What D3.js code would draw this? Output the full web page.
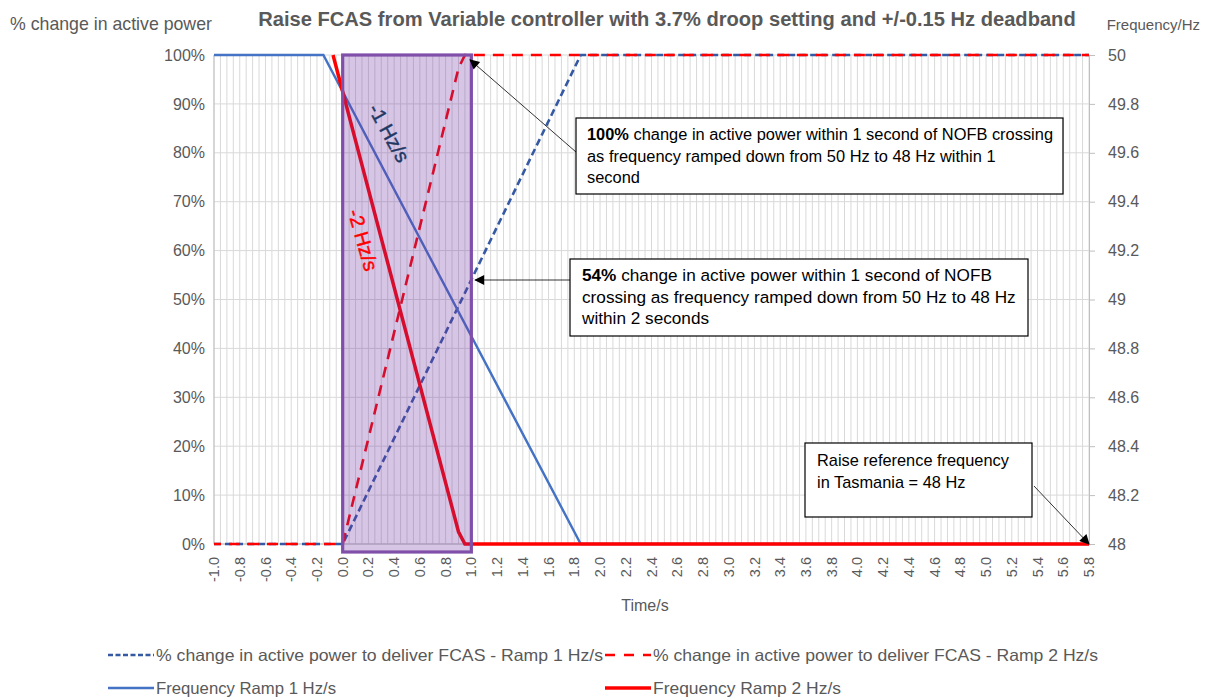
<!DOCTYPE html>
<html>
<head>
<meta charset="utf-8">
<script src="https://cdn.jsdelivr.net/npm/d3@7"></script>
<style>
  body { margin: 0; background: #fff; }
  text { font-family: "Liberation Sans", Arial, sans-serif; }
</style>
</head>
<body>
<script>
// time ticks shown on the category axis
var timeLabels = ["-1.0","-0.8","-0.6","-0.4","-0.2","0.0","0.2","0.4","0.6","0.8","1.0","1.2","1.4","1.6","1.8","2.0","2.2","2.4","2.6","2.8","3.0","3.2","3.4","3.6","3.8","4.0","4.2","4.4","4.6","4.8","5.0","5.2","5.4","5.6","5.8"];
var powerTicks = [0, 10, 20, 30, 40, 50, 60, 70, 80, 90, 100];
var freqTicks = [48, 48.2, 48.4, 48.6, 48.8, 49, 49.2, 49.4, 49.6, 49.8, 50];

// breakpoints of each series (time/s, value)
var powerTime1 = [-1.0, 0.0, 1.85, 5.8];
var powerRamp1 = [0, 0, 100, 100];
var powerTime2 = [-1.0, 0.0, 0.9, 0.95, 5.8];
var powerRamp2 = [0, 0, 97.3, 100, 100];
var freqTime1 = [-1.0, -0.15, 1.85, 5.8];
var freqRamp1 = [50, 50, 48, 48];
var freqTime2 = [-0.075, 0.9, 0.95, 5.8];
var freqRamp2 = [50, 48.05, 48, 48];

var seriesNames = [
  "% change in active power to deliver FCAS - Ramp 1 Hz/s",
  "% change in active power to deliver FCAS - Ramp 2 Hz/s",
  "Frequency Ramp 1 Hz/s",
  "Frequency Ramp 2 Hz/s"
];

var w = 1205, h = 697;
var grey = "#595959";

var svg = d3.select("body").append("svg")
  .attr("width", w).attr("height", h);

var x = d3.scaleLinear().domain([-1, 5.8]).range([214, 1089]);
var yP = d3.scaleLinear().domain([0, 100]).range([544, 55]);
var yF = d3.scaleLinear().domain([48, 50]).range([544, 55]);

// fit a text element to a width by changing its font size
function fit(t, width) {
  var l = t.node().getComputedTextLength();
  var fs = parseFloat(t.attr("font-size"));
  t.attr("font-size", (fs * width / l).toFixed(2));
  return t;
}
// squeeze a text to a width keeping its font size (narrow face look)
function squeeze(t, width) {
  t.attr("textLength", width).attr("lengthAdjust", "spacingAndGlyphs");
  return t;
}

// grid
var grid = svg.append("g");
grid.selectAll(".vg")
  .data(d3.range(0, 137))
  .enter().append("line")
  .attr("x1", function(i){ return x(-1 + i * 0.05); })
  .attr("x2", function(i){ return x(-1 + i * 0.05); })
  .attr("y1", yP(0)).attr("y2", yP(100))
  .attr("stroke", "#d9d9d9").attr("stroke-width", 1);
grid.selectAll(".hg")
  .data(powerTicks)
  .enter().append("line")
  .attr("x1", x(-1)).attr("x2", x(5.8))
  .attr("y1", function(d){ return yP(d); })
  .attr("y2", function(d){ return yP(d); })
  .attr("stroke", "#d9d9d9").attr("stroke-width", 1);

svg.append("line")
  .attr("x1", x(-1)).attr("x2", x(-1)).attr("y1", yP(0)).attr("y2", yP(100))
  .attr("stroke", "#bfbfbf");
svg.append("line")
  .attr("x1", x(-1)).attr("x2", x(5.8)).attr("y1", yP(0)).attr("y2", yP(0))
  .attr("stroke", "#bfbfbf");

// left axis
var leftAxis = svg.append("g")
  .attr("transform", "translate(" + x(-1) + ",0)")
  .call(d3.axisLeft(yP).tickValues(powerTicks).tickSize(0).tickPadding(9)
        .tickFormat(function(d){ return d + "%"; }));
leftAxis.select(".domain").remove();
leftAxis.selectAll("text").attr("fill", grey).attr("font-size", 16)
  .style("font-family", "Liberation Sans, Arial, sans-serif");

// right axis
var rightAxis = svg.append("g")
  .attr("transform", "translate(" + x(5.8) + ",0)")
  .call(d3.axisRight(yF).tickValues(freqTicks).tickSize(6).tickPadding(13)
        .tickFormat(function(d){ return d3.format("")(+d.toFixed(1)); }));
rightAxis.select(".domain").attr("stroke", "#bfbfbf");
rightAxis.selectAll("line").attr("stroke", "#bfbfbf");
rightAxis.selectAll("text").attr("fill", grey).attr("font-size", 16)
  .style("font-family", "Liberation Sans, Arial, sans-serif");

// x labels, rotated
svg.append("g").selectAll("text")
  .data(timeLabels)
  .enter().append("text")
  .attr("transform", function(d){ return "translate(" + x(+d) + ",557) rotate(-90)"; })
  .attr("text-anchor", "end")
  .attr("dy", "0.35em")
  .attr("font-size", 14.5)
  .attr("fill", grey)
  .text(function(d){ return d; });

// series
function pts(ts, vs) { return ts.map(function(t, i){ return [t, vs[i]]; }); }
var lineP = d3.line().x(function(d){ return x(d[0]); }).y(function(d){ return yP(d[1]); });
var lineF = d3.line().x(function(d){ return x(d[0]); }).y(function(d){ return yF(d[1]); });

var blueDash = "#3559a3", redDash = "#ff0000", blueSolid = "#4472c4", redSolid = "#ff0000";

svg.append("path").attr("d", lineP(pts(powerTime1, powerRamp1)))
  .attr("fill", "none").attr("stroke", blueDash).attr("stroke-width", 2.6)
  .attr("stroke-dasharray", "7,4");
svg.append("path").attr("d", lineP(pts(powerTime2, powerRamp2)))
  .attr("fill", "none").attr("stroke", redDash).attr("stroke-width", 2.6)
  .attr("stroke-dasharray", "11,8").attr("stroke-dashoffset", 4);
svg.append("path").attr("d", lineF(pts(freqTime1, freqRamp1)))
  .attr("fill", "none").attr("stroke", blueSolid).attr("stroke-width", 2.4);
svg.append("path").attr("d", lineF(pts(freqTime2, freqRamp2)))
  .attr("fill", "none").attr("stroke", redSolid).attr("stroke-width", 3.5);

// highlight window 0..1 s
svg.append("rect")
  .attr("x", x(0)).attr("y", yP(100))
  .attr("width", x(1) - x(0)).attr("height", yP(0) - yP(100) + 8)
  .attr("fill", "#7030a0").attr("fill-opacity", 0.28)
  .attr("stroke", "#7f4fa9").attr("stroke-width", 3.2);

// slope labels
svg.append("text")
  .attr("transform", "translate(389,133) rotate(61)")
  .attr("text-anchor", "middle").attr("dy", "0.35em")
  .attr("font-size", 20).attr("fill", "#1f3864")
  .attr("stroke", "#1f3864").attr("stroke-width", 0.4)
  .text("-1 Hz/s");
svg.append("text")
  .attr("transform", "translate(363,240) rotate(74)")
  .attr("text-anchor", "middle").attr("dy", "0.35em")
  .attr("font-size", 20).attr("fill", "#ff0000")
  .attr("stroke", "#ff0000").attr("stroke-width", 0.4)
  .text("-2 Hz/s");

// arrows
var defs = svg.append("defs");
defs.append("marker").attr("id", "arr")
  .attr("viewBox", "0 0 10 10").attr("refX", 9).attr("refY", 5)
  .attr("markerWidth", 13).attr("markerHeight", 10).attr("markerUnits", "userSpaceOnUse")
  .attr("orient", "auto")
  .append("path").attr("d", "M0,0L10,5L0,10Z").attr("fill", "#000");

function arrow(x1, y1, x2, y2) {
  svg.append("line").attr("x1", x1).attr("y1", y1).attr("x2", x2).attr("y2", y2)
    .attr("stroke", "#000").attr("stroke-width", 0.8).attr("marker-end", "url(#arr)");
}
arrow(576, 152, x(0.99), yP(99));
arrow(570, 280, x(1.03), 280);
arrow(1034, 486, x(5.8), yF(48));

// callout boxes: first line sets the font size, the rest follow it
function callout(bx, by, bw, bh, lines, tx, ty, firstWidth) {
  svg.append("rect").attr("x", bx).attr("y", by).attr("width", bw).attr("height", bh)
    .attr("fill", "#fff").attr("stroke", "#000").attr("stroke-width", 1.2);
  var fs = 15;
  lines.forEach(function(ln, i) {
    var t = svg.append("text").attr("x", tx).attr("y", ty + i * 21.5)
      .attr("font-size", fs).attr("fill", "#000");
    if (ln.bold) t.append("tspan").attr("font-weight", "bold").text(ln.bold);
    t.append("tspan").text(ln.text);
    if (i === 0) { fit(t, firstWidth); fs = t.attr("font-size"); }
  });
}
callout(576, 118, 487, 76, [
  { bold: "100%", text: " change in active power within 1 second of NOFB crossing" },
  { text: "as frequency ramped down from 50 Hz to 48 Hz within 1" },
  { text: "second" }
], 587, 140, 466);
callout(570, 259, 458, 77, [
  { bold: "54%", text: " change in active power within 1 second of NOFB" },
  { text: "crossing as frequency ramped down from 50 Hz to 48 Hz" },
  { text: "within 2 seconds" }
], 582, 281, 410);
callout(805, 443, 227, 74, [
  { text: "Raise reference frequency" },
  { text: "in Tasmania = 48 Hz" }
], 817, 466, 192);

// titles
fit(svg.append("text").attr("x", 667).attr("y", 26).attr("text-anchor", "middle")
  .attr("font-size", 17).attr("font-weight", "bold").attr("fill", grey)
  .text("Raise FCAS from Variable controller with 3.7% droop setting and +/-0.15 Hz deadband"), 818);
fit(svg.append("text").attr("x", 10).attr("y", 30)
  .attr("font-size", 16).attr("fill", grey).text("% change in active power"), 202);
svg.append("text").attr("x", 1200).attr("y", 30).attr("text-anchor", "end")
  .attr("font-size", 15).attr("fill", grey).text("Frequency/Hz");
svg.append("text").attr("x", 645).attr("y", 611).attr("text-anchor", "middle")
  .attr("font-size", 16).attr("fill", grey).text("Time/s");

// legend
var legend = [
  { x: 108, y: 655, color: blueDash, dash: "5,2.5", sw: 2.6, tw: 447 },
  { x: 605, y: 655, color: redDash, dash: "10,9", sw: 2.6, tw: 445 },
  { x: 108, y: 688, color: blueSolid, dash: null, sw: 2.6, tw: 180 },
  { x: 605, y: 688, color: redSolid, dash: null, sw: 3.5, tw: 188 }
];
legend.forEach(function(l, i) {
  var ln = svg.append("line").attr("x1", l.x).attr("x2", l.x + 46)
    .attr("y1", l.y).attr("y2", l.y)
    .attr("stroke", l.color).attr("stroke-width", l.sw);
  if (l.dash) ln.attr("stroke-dasharray", l.dash);
  squeeze(svg.append("text").attr("x", l.x + 48).attr("y", l.y).attr("dy", "0.35em")
    .attr("font-size", 16.5).attr("fill", grey).text(seriesNames[i]), l.tw);
});
</script>
</body>
</html>
